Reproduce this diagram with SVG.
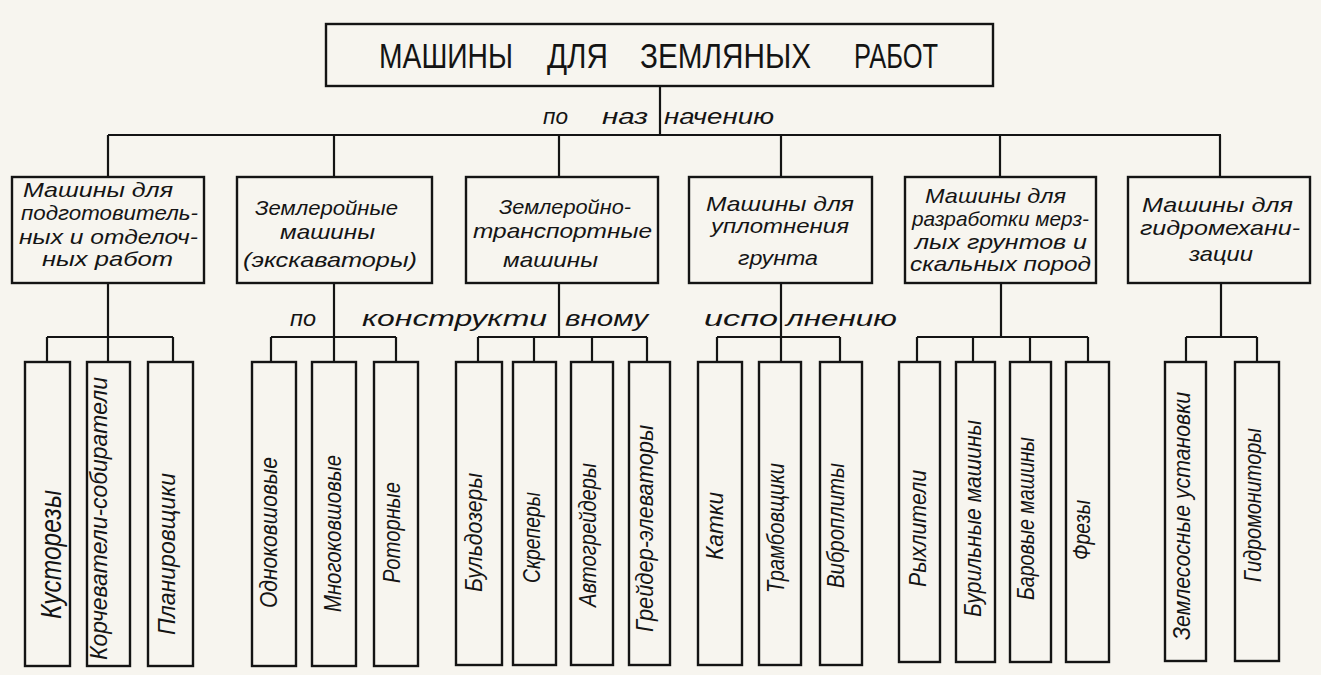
<svg xmlns="http://www.w3.org/2000/svg" width="1321" height="675" viewBox="0 0 1321 675">
<style>
.bg{fill:#f7f5ef}
.box{fill:none;stroke:#141414;stroke-width:2.4}
.ln{fill:none;stroke:#141414;stroke-width:2.2}
.title{font-family:"Liberation Sans",Arial,sans-serif;font-size:35px;fill:#141414}
.t{font-family:"Liberation Sans",Arial,sans-serif;font-style:italic;font-size:21px;fill:#141414}
.lbl{font-family:"Liberation Sans",Arial,sans-serif;font-style:italic;font-size:22px;fill:#141414}
.v{font-family:"Liberation Sans",Arial,sans-serif;font-style:italic;font-size:23px;fill:#141414}
</style>
<rect class="bg" x="0" y="0" width="1321" height="675"/>

<g id="connectors">
  <path class="ln" d="M660 86 V135 M108 135 H1221 M108 135 V177 M334 135 V177 M559 135 V177 M781 135 V177 M1000 135 V177 M1220 135 V177"/>
  <path class="ln" d="M108 283 V337 M47 337 H173 M47 337 V362 M108 337 V362 M173 337 V362"/>
  <path class="ln" d="M334 283 V337 M271 337 H396 M271 337 V362 M334 337 V362 M396 337 V362"/>
  <path class="ln" d="M559 283 V337 M478 337 H647 M478 337 V362 M534 337 V362 M592 337 V362 M647 337 V362"/>
  <path class="ln" d="M781 283 V337 M717 337 H840 M717 337 V362 M781 337 V362 M840 337 V362"/>
  <path class="ln" d="M1001 283 V337 M917 337 H1088 M917 337 V362 M973 337 V362 M1030 337 V362 M1088 337 V362"/>
  <path class="ln" d="M1221 283 V337 M1186 337 H1257 M1186 337 V362 M1257 337 V362"/>
</g>

<g id="labels">
  <text class="lbl" x="543" y="124" textLength="25" lengthAdjust="spacingAndGlyphs">по</text>
  <text class="lbl" x="602" y="124" textLength="46" lengthAdjust="spacingAndGlyphs">наз</text>
  <text class="lbl" x="664" y="124" textLength="110" lengthAdjust="spacingAndGlyphs">начению</text>
  <text class="lbl" x="290" y="326" textLength="26" lengthAdjust="spacingAndGlyphs">по</text>
  <text class="lbl" x="362" y="326" textLength="185" lengthAdjust="spacingAndGlyphs">конструкти</text>
  <text class="lbl" x="565" y="326" textLength="83" lengthAdjust="spacingAndGlyphs">вному</text>
  <text class="lbl" x="704" y="326" textLength="74" lengthAdjust="spacingAndGlyphs">испо</text>
  <text class="lbl" x="786" y="326" textLength="111" lengthAdjust="spacingAndGlyphs">лнению</text>
</g>

<g id="root">
  <rect class="box" x="326" y="24" width="667" height="62"/>
  <text class="title" x="379" y="68" textLength="134" lengthAdjust="spacingAndGlyphs">МАШИНЫ</text>
  <text class="title" x="547" y="68" textLength="61" lengthAdjust="spacingAndGlyphs">ДЛЯ</text>
  <text class="title" x="640" y="68" textLength="171" lengthAdjust="spacingAndGlyphs">ЗЕМЛЯНЫХ</text>
  <text class="title" x="854" y="68" textLength="84" lengthAdjust="spacingAndGlyphs">РАБОТ</text>
</g>

<g id="cat1">
  <rect class="box" x="12" y="177" width="192" height="106"/>
  <text class="t" x="23" y="197" textLength="150" lengthAdjust="spacingAndGlyphs">Машины для</text>
  <text class="t" x="21" y="220" textLength="177" lengthAdjust="spacingAndGlyphs">подготовитель-</text>
  <text class="t" x="19" y="244" textLength="179" lengthAdjust="spacingAndGlyphs">ных и отделоч-</text>
  <text class="t" x="42" y="266" textLength="131" lengthAdjust="spacingAndGlyphs">ных работ</text>
</g>
<g id="cat2">
  <rect class="box" x="237" y="177" width="195" height="106"/>
  <text class="t" x="255" y="215" textLength="143" lengthAdjust="spacingAndGlyphs">Землеройные</text>
  <text class="t" x="280" y="239" textLength="95" lengthAdjust="spacingAndGlyphs">машины</text>
  <text class="t" x="243" y="267" textLength="174" lengthAdjust="spacingAndGlyphs">(экскаваторы)</text>
</g>
<g id="cat3">
  <rect class="box" x="466" y="177" width="192" height="106"/>
  <text class="t" x="499" y="214" textLength="132" lengthAdjust="spacingAndGlyphs">Землеройно-</text>
  <text class="t" x="473" y="238" textLength="179" lengthAdjust="spacingAndGlyphs">транспортные</text>
  <text class="t" x="503" y="267" textLength="95" lengthAdjust="spacingAndGlyphs">машины</text>
</g>
<g id="cat4">
  <rect class="box" x="689" y="177" width="183" height="106"/>
  <text class="t" x="706" y="211" textLength="148" lengthAdjust="spacingAndGlyphs">Машины для</text>
  <text class="t" x="711" y="233" textLength="138" lengthAdjust="spacingAndGlyphs">уплотнения</text>
  <text class="t" x="738" y="265" textLength="80" lengthAdjust="spacingAndGlyphs">грунта</text>
</g>
<g id="cat5">
  <rect class="box" x="905" y="177" width="191" height="106"/>
  <text class="t" x="925" y="203" textLength="141" lengthAdjust="spacingAndGlyphs">Машины для</text>
  <text class="t" x="912" y="226" textLength="177" lengthAdjust="spacingAndGlyphs">разработки мерз-</text>
  <text class="t" x="915" y="249" textLength="172" lengthAdjust="spacingAndGlyphs">лых грунтов и</text>
  <text class="t" x="910" y="271" textLength="181" lengthAdjust="spacingAndGlyphs">скальных пород</text>
</g>
<g id="cat6">
  <rect class="box" x="1128" y="177" width="182" height="106"/>
  <text class="t" x="1142" y="212" textLength="151" lengthAdjust="spacingAndGlyphs">Машины для</text>
  <text class="t" x="1140" y="235" textLength="160" lengthAdjust="spacingAndGlyphs">гидромехани-</text>
  <text class="t" x="1189" y="261" textLength="64" lengthAdjust="spacingAndGlyphs">зации</text>
</g>

<g id="n-kustorezy">
  <rect class="box" x="25" y="362" width="45" height="304"/>
  <text class="v" style="font-size:29px" transform="translate(61 619) rotate(-90)" textLength="129" lengthAdjust="spacingAndGlyphs">Кусторезы</text>
</g>
<g id="n-korchevateli">
  <rect class="box" x="87" y="362" width="43" height="304"/>
  <text class="v" transform="translate(107 660) rotate(-90)" textLength="283" lengthAdjust="spacingAndGlyphs">Корчеватели-собиратели</text>
</g>
<g id="n-planirovshchiki">
  <rect class="box" x="148" y="362" width="45" height="304"/>
  <text class="v" style="font-size:24px" transform="translate(175 635) rotate(-90)" textLength="162" lengthAdjust="spacingAndGlyphs">Планировщики</text>
</g>
<g id="n-odnokovshovye">
  <rect class="box" x="252" y="362" width="44" height="304"/>
  <text class="v" transform="translate(277 608) rotate(-90)" textLength="151" lengthAdjust="spacingAndGlyphs">Одноковшовые</text>
</g>
<g id="n-mnogokovshovye">
  <rect class="box" x="312" y="362" width="44" height="304"/>
  <text class="v" transform="translate(341 612) rotate(-90)" textLength="157" lengthAdjust="spacingAndGlyphs">Многоковшовые</text>
</g>
<g id="n-rotornye">
  <rect class="box" x="374" y="362" width="44" height="304"/>
  <text class="v" transform="translate(400 583) rotate(-90)" textLength="101" lengthAdjust="spacingAndGlyphs">Роторные</text>
</g>
<g id="n-buldozery">
  <rect class="box" x="456" y="362" width="46" height="303"/>
  <text class="v" transform="translate(482 592) rotate(-90)" textLength="119" lengthAdjust="spacingAndGlyphs">Бульдозеры</text>
</g>
<g id="n-skrepery">
  <rect class="box" x="513" y="362" width="43" height="303"/>
  <text class="v" transform="translate(540 583) rotate(-90)" textLength="91" lengthAdjust="spacingAndGlyphs">Скреперы</text>
</g>
<g id="n-avtogreidery">
  <rect class="box" x="571" y="362" width="42" height="303"/>
  <text class="v" transform="translate(596 607) rotate(-90)" textLength="144" lengthAdjust="spacingAndGlyphs">Автогрейдеры</text>
</g>
<g id="n-greider-elevatory">
  <rect class="box" x="629" y="362" width="41" height="303"/>
  <text class="v" transform="translate(653 632) rotate(-90)" textLength="207" lengthAdjust="spacingAndGlyphs">Грейдер-элеваторы</text>
</g>
<g id="n-katki">
  <rect class="box" x="698" y="362" width="44" height="303"/>
  <text class="v" transform="translate(723 560) rotate(-90)" textLength="68" lengthAdjust="spacingAndGlyphs">Катки</text>
</g>
<g id="n-trambovshchiki">
  <rect class="box" x="759" y="362" width="42" height="303"/>
  <text class="v" transform="translate(784 593) rotate(-90)" textLength="130" lengthAdjust="spacingAndGlyphs">Трамбовщики</text>
</g>
<g id="n-vibroplity">
  <rect class="box" x="820" y="362" width="42" height="303"/>
  <text class="v" transform="translate(844 588) rotate(-90)" textLength="125" lengthAdjust="spacingAndGlyphs">Виброплиты</text>
</g>
<g id="n-rykhliteli">
  <rect class="box" x="899" y="362" width="41" height="300"/>
  <text class="v" transform="translate(926 587) rotate(-90)" textLength="117" lengthAdjust="spacingAndGlyphs">Рыхлители</text>
</g>
<g id="n-burilnye">
  <rect class="box" x="956" y="362" width="39" height="300"/>
  <text class="v" transform="translate(981 617) rotate(-90)" textLength="197" lengthAdjust="spacingAndGlyphs">Бурильные  машины</text>
</g>
<g id="n-barovye">
  <rect class="box" x="1010" y="362" width="41" height="300"/>
  <text class="v" transform="translate(1034 600) rotate(-90)" textLength="163" lengthAdjust="spacingAndGlyphs">Баровые машины</text>
</g>
<g id="n-frezy">
  <rect class="box" x="1066" y="362" width="43" height="300"/>
  <text class="v" transform="translate(1090 560) rotate(-90)" textLength="60" lengthAdjust="spacingAndGlyphs">Фрезы</text>
</g>
<g id="n-zemlesosnye">
  <rect class="box" x="1165" y="362" width="41" height="299"/>
  <text class="v" transform="translate(1190 640) rotate(-90)" textLength="248" lengthAdjust="spacingAndGlyphs">Землесосные  установки</text>
</g>
<g id="n-gidromonitory">
  <rect class="box" x="1235" y="362" width="44" height="299"/>
  <text class="v" transform="translate(1261 582) rotate(-90)" textLength="154" lengthAdjust="spacingAndGlyphs">Гидромониторы</text>
</g>
</svg>
